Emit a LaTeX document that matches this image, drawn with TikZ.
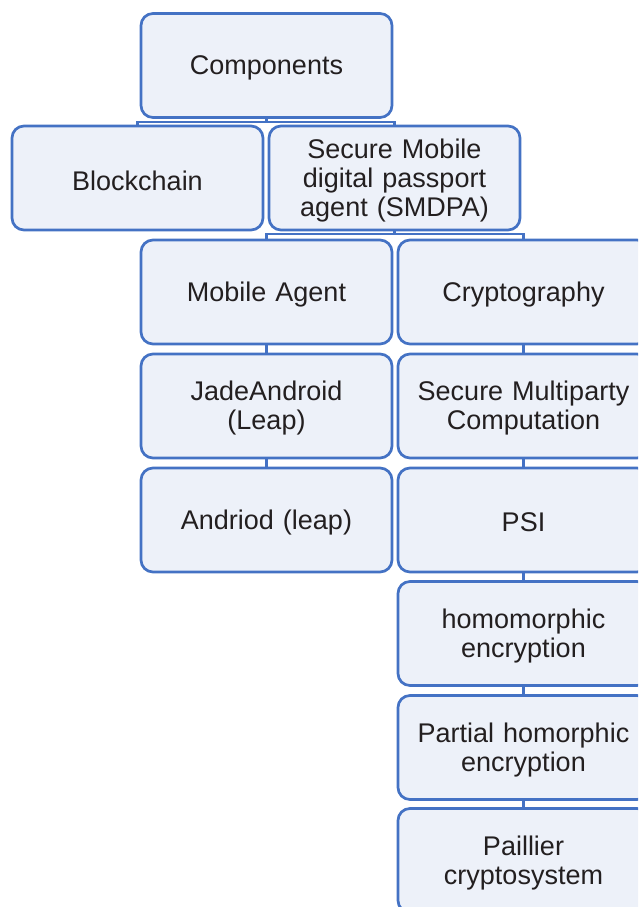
\documentclass[tikz,border=0pt]{standalone}
\usepackage{fontspec}
\setmainfont{Liberation Sans}
\definecolor{bfill}{HTML}{EDF1F9}
\definecolor{bline}{HTML}{4472C4}
\definecolor{btext}{HTML}{231F20}
\begin{document}
\begin{tikzpicture}[x=1pt,y=-1pt,
  box/.style={draw=bline, fill=bfill, line width=2.7pt, rounded corners=12pt,
    minimum width=251pt, minimum height=104pt, inner sep=0pt},
  lbl/.style={inner sep=0pt, text width=245pt, align=center, text=btext,
    font=\fontsize{27}{29}\selectfont},
  link/.style={draw=bline, line width=2.2pt}]
\clip (0,0) rectangle (638,907);
\fill[white] (0,0) rectangle (638,907);
\node[box] (comp) at (266.5,65.5) {};
\node[box] (block) at (137.5,178) {};
\node[box] (smdpa) at (394.5,178) {};
\node[box] (mobile) at (266.5,292) {};
\node[box] (crypto) at (523.5,292) {};
\node[box] (jade) at (266.5,406) {};
\node[box] (smpc) at (523.5,406) {};
\node[box] (andr) at (266.5,520) {};
\node[box] (psi) at (523.5,520) {};
\node[box] (homo) at (523.5,633.5) {};
\node[box] (partial) at (523.5,747.5) {};
\node[box] (paill) at (523.5,860.5) {};
\node[lbl] (compt) at ([yshift=-2.5pt]comp.center) {Components};
\node[lbl] (blockt) at ([yshift=-2.5pt]block.center) {Blockchain};
\node[lbl] (smdpat) at ([yshift=-2.5pt]smdpa.center) {Secure Mobile\\digital passport\\agent (SMDPA)};
\node[lbl] (mobilet) at ([yshift=-2.5pt]mobile.center) {Mobile Agent};
\node[lbl] (cryptot) at ([yshift=-2.5pt]crypto.center) {Cryptography};
\node[lbl] (jadet) at ([yshift=-2.5pt]jade.center) {JadeAndroid\\(Leap)};
\node[lbl] (smpct) at ([yshift=-2.5pt]smpc.center) {Secure Multiparty\\Computation};
\node[lbl] (andrt) at ([yshift=-2.5pt]andr.center) {Andriod (leap)};
\node[lbl] (psit) at ([yshift=-2.5pt]psi.center) {PSI};
\node[lbl] (homot) at ([yshift=-2.5pt]homo.center) {homomorphic\\encryption};
\node[lbl] (partialt) at ([yshift=-2.5pt]partial.center) {Partial homorphic\\encryption};
\node[lbl] (paillt) at ([yshift=-2.5pt]paill.center) {Paillier\\cryptosystem};
\draw[link] (comp.south) -- ++(0,3) -| (block.north);
\draw[link] (comp.south) -- ++(0,3) -| (smdpa.north);
\draw[link] (smdpa.south) -- ++(0,3) -| (mobile.north);
\draw[link] (smdpa.south) -- ++(0,3) -| (crypto.north);
\draw[link] (mobile.south) -- (jade.north);
\draw[link] (jade.south) -- (andr.north);
\draw[link] (crypto.south) -- (smpc.north);
\draw[link] (smpc.south) -- (psi.north);
\draw[link] (psi.south) -- (homo.north);
\draw[link] (homo.south) -- (partial.north);
\draw[link] (partial.south) -- (paill.north);
\end{tikzpicture}
\end{document}
